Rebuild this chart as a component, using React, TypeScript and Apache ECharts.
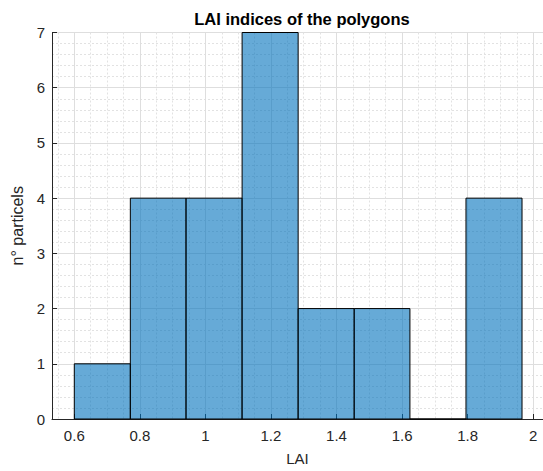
import React, { useEffect, useRef } from "react";
import * as echarts from "echarts";

// Histogram bins (edges) and counts per bin
const binEdges = [0.6, 0.771, 0.941, 1.112, 1.283, 1.454, 1.624, 1.795, 1.966];
const counts = [1, 4, 4, 7, 2, 2, 0, 4];

// Axis ticks
const xMajorTicks = [0.6, 0.8, 1.0, 1.2, 1.4, 1.6, 1.8, 2.0];
const xMinorTicks = [
  0.55, 0.65, 0.7, 0.75, 0.85, 0.9, 0.95, 1.05, 1.1, 1.15, 1.25, 1.3, 1.35,
  1.45, 1.5, 1.55, 1.65, 1.7, 1.75, 1.85, 1.9, 1.95,
];
const xLimits = [0.532, 2.03];
const yLimits = [0, 7];

const FONT = "'Liberation Sans', Arial, Helvetica, sans-serif";
const AXIS_COLOR = "#262626";

export default function App() {
  const ref = useRef<HTMLDivElement>(null);

  useEffect(() => {
    if (!ref.current) return;
    const chart = echarts.init(ref.current, null, { renderer: "svg" });

    const data = counts.map((c, i) => [binEdges[i], binEdges[i + 1], c]);

    chart.setOption({
      animation: false,
      backgroundColor: "#ffffff",
      title: {
        text: "LAI indices of the polygons",
        left: 297,
        textAlign: "center",
        top: 5,
        textStyle: { fontFamily: FONT, fontSize: 16.5, fontWeight: "bold", color: "#000" },
      },
      grid: { left: 52, right: 0, top: 32.5, bottom: 49 },
      xAxis: [
        {
          type: "value",
          min: xLimits[0],
          max: xLimits[1],
          name: "LAI",
          nameLocation: "middle",
          nameGap: 32,
          nameTextStyle: { fontFamily: FONT, fontSize: 15, color: AXIS_COLOR },
          axisLine: { show: true, onZero: false, lineStyle: { color: AXIS_COLOR, width: 1 } },
          axisTick: {
            show: true,
            inside: true,
            length: 5,
            customValues: xMajorTicks,
            lineStyle: { color: AXIS_COLOR },
          },
          axisLabel: {
            customValues: xMajorTicks,
            margin: 9,
            fontFamily: FONT,
            fontSize: 15,
            color: AXIS_COLOR,
            formatter: (v: number) => String(Number(v.toFixed(2))),
          },
          splitLine: { show: true, lineStyle: { color: "#dedede", width: 1 } },
        },
        {
          type: "value",
          min: xLimits[0],
          max: xLimits[1],
          position: "bottom",
          axisLine: { show: false },
          axisTick: { show: false, customValues: xMinorTicks },
          axisLabel: { show: false, customValues: xMinorTicks },
          splitLine: {
            show: true,
            lineStyle: { color: "#e2e2e2", width: 1, type: [2, 2] },
          },
        },
      ],
      yAxis: {
        type: "value",
        min: yLimits[0],
        max: yLimits[1],
        interval: 1,
        name: "n° particels",
        nameLocation: "middle",
        nameGap: 15,
        nameTextStyle: { fontFamily: FONT, fontSize: 16, color: AXIS_COLOR },
        axisLine: { show: true, lineStyle: { color: AXIS_COLOR, width: 1 } },
        axisTick: { show: true, inside: true, length: 5, lineStyle: { color: AXIS_COLOR } },
        axisLabel: { margin: 7, fontFamily: FONT, fontSize: 15, color: AXIS_COLOR },
        splitLine: { show: true, lineStyle: { color: "#dedede", width: 1 } },
        minorTick: { show: false, splitNumber: 5 },
        minorSplitLine: { show: true, lineStyle: { color: "#e2e2e2", width: 1, type: [2, 2] } },
      },
      series: [
        {
          type: "custom",
          xAxisIndex: 0,
          yAxisIndex: 0,
          encode: { x: [0, 1], y: 2 },
          data,
          renderItem: (_params: any, api: any) => {
            const x0 = api.value(0);
            const x1 = api.value(1);
            const c = api.value(2);
            const p0 = api.coord([x0, c]);
            const p1 = api.coord([x1, 0]);
            return {
              type: "rect",
              shape: { x: p0[0], y: p0[1], width: p1[0] - p0[0], height: p1[1] - p0[1] },
              style: { fill: "rgba(0,114,189,0.6)", stroke: "#000", lineWidth: 1 },
            };
          },
        },
      ],
    });

    return () => chart.dispose();
  }, []);

  return (
    <div
      ref={ref}
      style={{ position: "fixed", left: 0, top: 0, width: 543, height: 471 }}
    />
  );
}
